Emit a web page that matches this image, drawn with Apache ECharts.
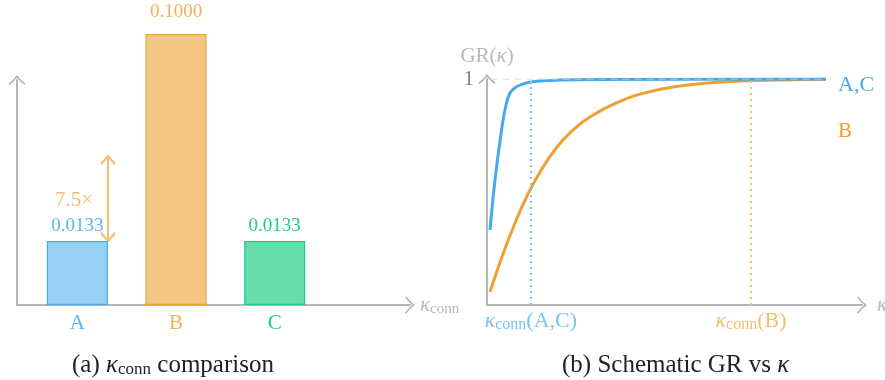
<!DOCTYPE html>
<html>
<head>
<meta charset="utf-8">
<script src="https://cdn.jsdelivr.net/npm/echarts@6/dist/echarts.min.js"></script>
<style>
html,body{margin:0;padding:0;background:#fff;}
#c{width:885px;height:380px;}
</style>
</head>
<body>
<div id="c"></div>
<script>
// ---------- data ----------
const categories = ['A', 'B', 'C'];
const barValues = [0.0133, 0.1000, 0.0133];        // printed values
const barHeights = [0.236, 1.0, 0.236];             // schematic drawn heights (fraction of tallest)

const kappaAC = [0.08, 0.213, 0.4, 0.507, 0.613, 0.773, 0.96, 1.173, 1.413, 1.947, 3.013, 9.04];
const grAC    = [0.332, 0.553, 0.788, 0.885, 0.938, 0.965, 0.978, 0.987, 0.991, 0.996, 0.998, 1.0];
const kappaB  = [0.08, 0.427, 0.747, 1.067, 1.413, 1.867, 2.293, 2.747, 3.627, 4.293, 4.96, 5.813, 6.747, 7.813, 9.04];
const grB     = [0.058, 0.226, 0.363, 0.482, 0.588, 0.699, 0.774, 0.832, 0.907, 0.942, 0.965, 0.981, 0.991, 0.996, 0.999];
const kConnAC = 1.173;
const kConnB = 7.04;

// ---------- styles ----------
const serif = 'Liberation Serif';
const gray = '#b5b5b5';
const blue = '#45aaeb', blueFill = '#96d0f5', blueLight = '#7cc4f2';
const orange = '#f0a030', orangeFill = '#f5c785', orangeLight = '#f5bd6e';
const green = '#1fcc85', greenFill = '#66dfac';
const barFill = [blueFill, orangeFill, greenFill];
const barBorder = [blue, orange, green];
const labelCol = ['#5bb5ef', '#f2b256', '#22c98a'];
const arrowPath = 'path://M0,10 Q6,6 10,0 Q14,6 20,10 L19,11.6 Q13.5,8 10,3.2 Q6.5,8 1,11.6 Z';

function kRich(color, big, small) {
  return {
    k: {fontFamily: serif, fontStyle: 'italic', fontSize: big, lineHeight: 24, color: color},
    s: {fontFamily: serif, fontSize: small, lineHeight: small, verticalAlign: 'bottom', color: color},
    n: {fontFamily: serif, fontSize: big, lineHeight: 24, color: color}
  };
}

const chart = echarts.init(document.getElementById('c'), null, {renderer: 'canvas'});

const hiddenAxisBits = {axisTick: {show: false}, axisLabel: {show: false}, splitLine: {show: false}};
const arrowLine = {show: true, symbol: ['none', arrowPath], symbolSize: [18, 10], lineStyle: {color: gray, width: 2}};

const option = {
  animation: false,
  backgroundColor: '#fff',
  title: [
    {text: '(a) {k|κ}{s|conn} comparison', left: 72, top: 353, padding: 0,
     textStyle: {fontFamily: serif, fontSize: 25, fontWeight: 'normal', color: '#222', rich: kRich('#222', 25, 17)}},
    {text: '(b) Schematic GR vs {k|κ}', left: 562, top: 353, padding: 0,
     textStyle: {fontFamily: serif, fontSize: 25, fontWeight: 'normal', color: '#222', rich: kRich('#222', 25, 17)}}
  ],
  grid: [
    {left: 28, right: 561, top: 34, bottom: 75, outerBoundsMode: 'none'},
    {left: 17, right: 475, top: 80, bottom: 75, outerBoundsMode: 'none'},
    {left: 487, right: 23, top: 79, bottom: 75, outerBoundsMode: 'none'}
  ],
  xAxis: [
    {type: 'category', gridIndex: 0, data: categories,
     axisLine: {show: false}, axisTick: {show: false}, splitLine: {show: false},
     axisLabel: {margin: 8, formatter: (v, i) => '{c' + i + '|' + v + '}',
       rich: {c0: {fontFamily: serif, fontSize: 21, color: labelCol[0]},
              c1: {fontFamily: serif, fontSize: 21, color: labelCol[1]},
              c2: {fontFamily: serif, fontSize: 21, color: labelCol[2]}}}},
    Object.assign({type: 'value', gridIndex: 1, min: 0, max: 1, axisLine: arrowLine,
     name: '{k|κ}{s|conn}', nameLocation: 'end', nameGap: 10,
     nameTextStyle: {rich: kRich('#b8b8b8', 21, 15)}}, hiddenAxisBits),
    Object.assign({type: 'value', gridIndex: 2, min: 0, max: 10, axisLine: arrowLine,
     name: '{k|κ}', nameLocation: 'end', nameGap: 15,
     nameTextStyle: {rich: kRich('#b8b8b8', 21, 15)}}, hiddenAxisBits)
  ],
  yAxis: [
    Object.assign({type: 'value', gridIndex: 0, min: 0, max: 1, axisLine: {show: false}}, hiddenAxisBits),
    Object.assign({type: 'value', gridIndex: 1, min: 0, max: 1, axisLine: arrowLine}, hiddenAxisBits),
    {type: 'value', gridIndex: 2, min: 0, max: 1, interval: 1, axisLine: arrowLine,
     axisTick: {show: false}, splitLine: {show: false},
     axisLabel: {margin: 13, formatter: v => v === 1 ? '1' : '', fontFamily: serif, fontSize: 21, color: '#808080'},
     name: 'GR({k|κ})', nameLocation: 'end', nameGap: 11,
     nameTextStyle: {fontFamily: serif, fontSize: 21, color: '#b8b8b8', rich: kRich('#b8b8b8', 21, 15)}}
  ],
  series: [
    {type: 'bar', xAxisIndex: 0, yAxisIndex: 0, barWidth: 61,
     data: barHeights.map((h, i) => ({
       value: h,
       itemStyle: {color: barFill[i], borderColor: barBorder[i], borderWidth: 1.2},
       label: {show: true, position: 'top', distance: i === 1 ? 12 : 6,
         formatter: () => barValues[i].toFixed(4),
         fontFamily: serif, fontSize: 19, color: labelCol[i]}
     }))},
    {type: 'line', xAxisIndex: 2, yAxisIndex: 2, smooth: 0.5, showSymbol: false,
     lineStyle: {color: orange, width: 3}, itemStyle: {color: orange}, z: 3,
     data: kappaB.map((k, i) => [k, grB[i]]),
     endLabel: {show: true, formatter: 'B', offset: [4, 52], fontFamily: serif, fontSize: 21, color: orange},
     markLine: {silent: true, symbol: ['none', 'none'],
       lineStyle: {color: orangeLight, type: [2, 4], width: 2},
       label: {show: true, position: 'start', distance: 4, formatter: '{k|κ}{s|conn}{n|(B)}', rich: kRich(orangeLight, 22, 16)},
       data: [{xAxis: kConnB}]}},
    {type: 'line', xAxisIndex: 2, yAxisIndex: 2, smooth: 0.35, showSymbol: false,
     lineStyle: {color: blue, width: 3}, itemStyle: {color: blue}, z: 4,
     data: kappaAC.map((k, i) => [k, grAC[i]]),
     endLabel: {show: true, formatter: 'A,C', offset: [4, 6], fontFamily: serif, fontSize: 22, color: blue},
     markLine: {silent: true, symbol: ['none', 'none'],
       lineStyle: {color: blueLight, type: [2, 4], width: 2},
       label: {show: true, position: 'start', distance: 4, formatter: '{k|κ}{s|conn}{n|(A,C)}', rich: kRich(blueLight, 22, 16)},
       data: [{xAxis: kConnAC}]}},
    {type: 'line', xAxisIndex: 2, yAxisIndex: 2, showSymbol: false, silent: true, z: 5,
     lineStyle: {color: '#cfcfcf', type: [7, 5], width: 1}, data: [[0.1, 1], [9.1, 1]]}
  ],
  graphic: [
    {type: 'line', shape: {x1: 108, y1: 157, x2: 108, y2: 240}, style: {stroke: orangeLight, lineWidth: 2}},
    {type: 'polyline', shape: {points: [[101, 164], [108, 156], [115, 164]]}, style: {stroke: orangeLight, lineWidth: 2, fill: null}},
    {type: 'polyline', shape: {points: [[101, 233], [108, 241], [115, 233]]}, style: {stroke: orangeLight, lineWidth: 2, fill: null}},
    {type: 'text', x: 74, y: 200, style: {text: (barValues[1] / barValues[0]).toFixed(1) + '×', fontFamily: serif, fontSize: 21,
      fill: orangeLight, align: 'center', verticalAlign: 'middle'}}
  ]
};
chart.setOption(option);
</script>
</body>
</html>
